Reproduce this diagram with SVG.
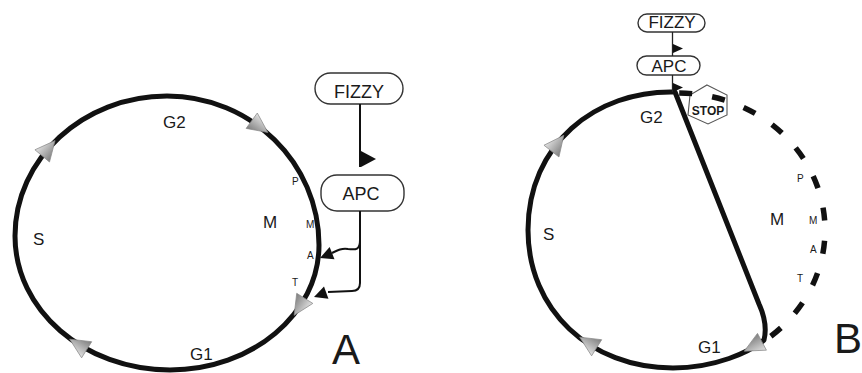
<svg xmlns="http://www.w3.org/2000/svg" width="862" height="373" viewBox="0 0 862 373">
  <defs>
    <style>
      text { font-family: "Liberation Sans", Arial, sans-serif; fill: #1a1a1a; }
      .phase { font-size: 17px; }
      .sub { font-size: 10px; }
      .panel { font-size: 42px; }
      .boxlabel { font-size: 18px; text-anchor: middle; }
      .boxlabel-sm { font-size: 17px; text-anchor: middle; }
      .box { fill: #ffffff; stroke: #333333; stroke-width: 1.4; }
      .cycle { fill: none; stroke: #111111; stroke-width: 5; stroke-linejoin: round; }
      .blocked { fill: none; stroke: #111111; stroke-width: 5.5; stroke-dasharray: 5.3 8.2; stroke-dashoffset: -0.5; }
      .wire { fill: none; stroke: #111111; stroke-width: 2; }
      .wire-thin { fill: none; stroke: #222222; stroke-width: 1.3; }
      .head { fill: #111111; }
      .stop { fill: #ffffff; stroke: #555555; stroke-width: 1.1; }
      .stoptext { font-size: 12px; font-weight: bold; text-anchor: middle; }
    </style>
    <linearGradient id="shade" x1="0" y1="0" x2="0" y2="1">
      <stop offset="0" stop-color="#e2e2e2"/>
      <stop offset="1" stop-color="#7d7d7d"/>
    </linearGradient>
    <!-- grey direction arrowhead, pointing along +x, centred on the origin -->
    <path id="dir" d="M11,0 L-9,-9.5 L-9,9.5 Z" fill="url(#shade)" stroke="#8a8a8a" stroke-width="0.7"/>
    <!-- black arrowhead, tip at the origin, pointing along +x -->
    <path id="tip" d="M0,0 L-13,-6.5 L-13,6.5 Z" class="head"/>
  </defs>

  <rect width="862" height="373" fill="#ffffff"/>

  <!-- ===== Panel A: normal cycle ===== -->
  <g id="cycle-a">
    <path class="cycle" d="M167,96 C251,96 319,163 319,245 C319,314 252,370 170,370 C84,370 15,310 15,236 C15,159 83,96 167,96 Z"/>
    <use href="#dir" transform="translate(259,126) rotate(36)"/>
    <use href="#dir" transform="translate(300,306) rotate(122)"/>
    <use href="#dir" transform="translate(79,345) rotate(212)"/>
    <use href="#dir" transform="translate(48,149) rotate(-50)"/>
    <text class="phase" x="163" y="128">G2</text>
    <text class="phase" x="33" y="245">S</text>
    <text class="phase" x="263" y="228">M</text>
    <text class="phase" x="190" y="360">G1</text>
    <text class="sub" x="292" y="185">P</text>
    <text class="sub" x="306" y="228">M</text>
    <text class="sub" x="307" y="259">A</text>
    <text class="sub" x="292" y="286">T</text>
  </g>

  <g id="fizzy-a">
    <rect class="box" x="315" y="73" width="88" height="31" rx="15.5"/>
    <text class="boxlabel" x="359" y="98">FIZZY</text>
  </g>
  <g id="apc-a">
    <rect class="box" x="321" y="175" width="83" height="36" rx="16"/>
    <text class="boxlabel" x="361" y="200">APC</text>
  </g>

  <g id="connectors-a">
    <!-- FIZZY activates APC -->
    <line class="wire" x1="360" y1="104" x2="360" y2="167"/>
    <path class="head" d="M361,151 L376,159 L361,167 Z"/>
    <!-- APC acts on metaphase and anaphase/telophase -->
    <path class="wire" d="M360,211 V283 Q360,291 352,291 L328,292"/>
    <path class="wire" d="M360,240 C360,250 356,250 348,249 C342,248 338,250 332,253"/>
    <use href="#tip" transform="translate(320,258) rotate(158)"/>
    <use href="#tip" transform="translate(314,297) rotate(160)"/>
  </g>

  <text class="panel" x="332" y="364">A</text>

  <!-- ===== Panel B: cycle with mitosis blocked ===== -->
  <g id="stop-b">
    <path class="stop" d="M707,85 L727,95 L727,115 L708,124 L688,115 L690,95 Z"/>
    <text class="stoptext" x="708" y="115">STOP</text>
  </g>

  <g id="cycle-b">
    <path class="blocked" pathLength="143" d="M678,93 A147,137 0 0 1 766.5,339.4"/>
    <path class="cycle" d="M675,92 L759,304 Q768,324 764,340 C750,352 715,368 673,368 C590,368 528,310 528,230 C528,145 595,90 675,92 Z"/>
    <use href="#dir" transform="translate(557,144) rotate(-52)"/>
    <use href="#dir" transform="translate(589,343) rotate(212)"/>
    <use href="#dir" transform="translate(754,346) rotate(152)"/>
    <text class="phase" x="640" y="123">G2</text>
    <text class="phase" x="543" y="240">S</text>
    <text class="phase" x="770" y="225">M</text>
    <text class="phase" x="698" y="353">G1</text>
    <text class="sub" x="797" y="182">P</text>
    <text class="sub" x="809" y="224">M</text>
    <text class="sub" x="810" y="253">A</text>
    <text class="sub" x="797" y="282">T</text>
  </g>

  <g id="fizzy-b">
    <rect class="box" x="638" y="14" width="67" height="18" rx="9"/>
    <text class="boxlabel-sm" x="672" y="28">FIZZY</text>
  </g>
  <g id="apc-b">
    <rect class="box" x="637" y="56" width="63" height="19" rx="9.5"/>
    <text class="boxlabel-sm" x="669" y="72">APC</text>
  </g>

  <g id="connectors-b">
    <line class="wire-thin" x1="672.5" y1="32" x2="672.5" y2="56"/>
    <path class="head" d="M673,44 L683,48.5 L673,53 Z"/>
    <line class="wire-thin" x1="672.5" y1="75" x2="672.5" y2="92"/>
    <path class="head" d="M673,83 L683,87.5 L673,92 Z"/>
  </g>

  <text class="panel" x="834" y="353">B</text>
</svg>
